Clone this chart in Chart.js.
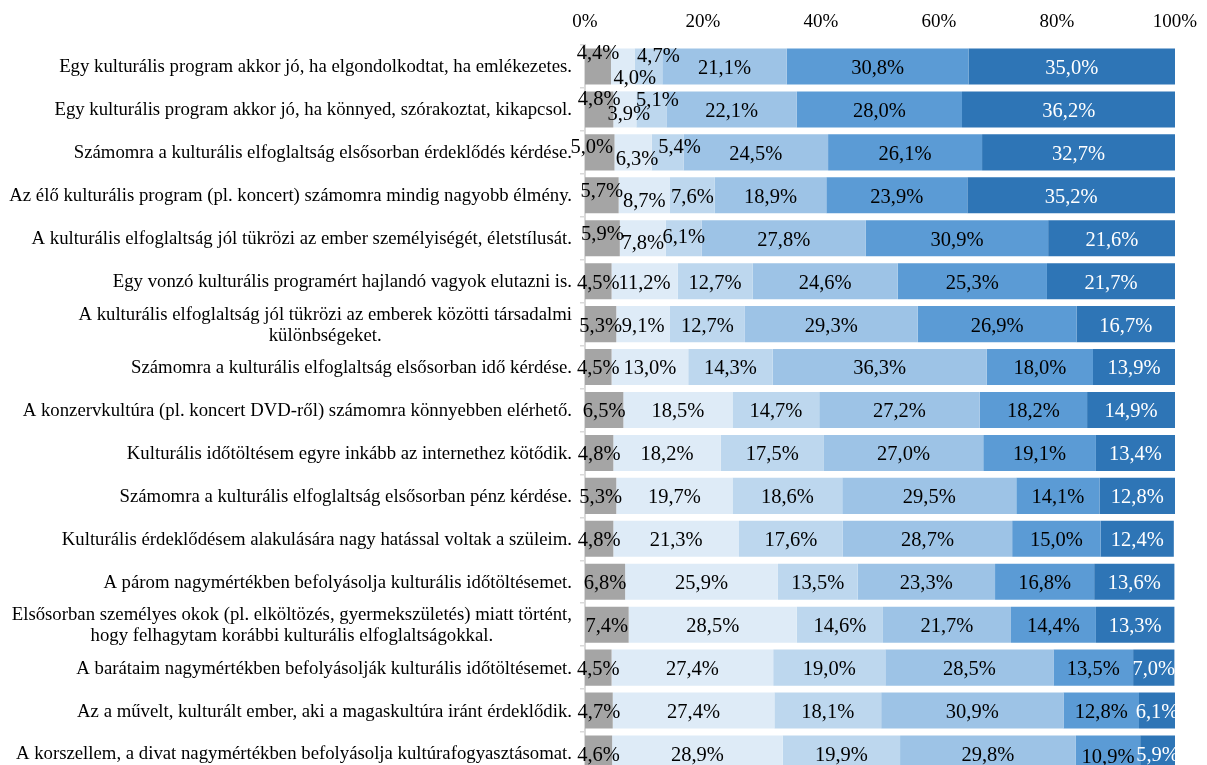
<!DOCTYPE html>
<html>
<head>
<meta charset="utf-8">
<script src="https://cdn.jsdelivr.net/npm/chart.js@4/dist/chart.umd.min.js"></script>
<style>
    html, body { margin: 0; padding: 0; background: #fff; overflow: hidden; }
    #wrap { position: absolute; left: 0; top: 0; width: 1207px; height: 780px; }
</style>
</head>
<body>
<div id="wrap"><canvas id="chart"></canvas></div>
<script>
// Categories, top to bottom (two-line ones as arrays)
const categories = [
    'Egy kulturális program akkor jó, ha elgondolkodtat, ha emlékezetes.',
    'Egy kulturális program akkor jó, ha könnyed, szórakoztat, kikapcsol.',
    'Számomra a kulturális elfoglaltság elsősorban érdeklődés kérdése.',
    'Az élő kulturális program (pl. koncert) számomra mindig nagyobb élmény.',
    'A kulturális elfoglaltság jól tükrözi az ember személyiségét, életstílusát.',
    'Egy vonzó kulturális programért hajlandó vagyok elutazni is.',
    ['A kulturális elfoglaltság jól tükrözi az emberek közötti társadalmi', 'különbségeket.'],
    'Számomra a kulturális elfoglaltság elsősorban idő kérdése.',
    'A konzervkultúra (pl. koncert DVD-ről) számomra könnyebben elérhető.',
    'Kulturális időtöltésem egyre inkább az internethez kötődik.',
    'Számomra a kulturális elfoglaltság elsősorban pénz kérdése.',
    'Kulturális érdeklődésem alakulására nagy hatással voltak a szüleim.',
    'A párom nagymértékben befolyásolja kulturális időtöltésemet.',
    ['Elsősorban személyes okok (pl. elköltözés, gyermekszületés) miatt történt,', 'hogy felhagytam korábbi kulturális elfoglaltságokkal.'],
    'A barátaim nagymértékben befolyásolják kulturális időtöltésemet.',
    'Az a művelt, kulturált ember, aki a magaskultúra iránt érdeklődik.',
    'A korszellem, a divat nagymértékben befolyásolja kultúrafogyasztásomat.'
];

// Series values (%), one array per answer level
const noAnswer = [4.4, 4.8, 5.0, 5.7, 5.9, 4.5, 5.3, 4.5, 6.5, 4.8, 5.3, 4.8, 6.8, 7.4, 4.5, 4.7, 4.6];
const level1   = [4.0, 3.9, 6.3, 8.7, 7.8, 11.2, 9.1, 13.0, 18.5, 18.2, 19.7, 21.3, 25.9, 28.5, 27.4, 27.4, 28.9];
const level2   = [4.7, 5.1, 5.4, 7.6, 6.1, 12.7, 12.7, 14.3, 14.7, 17.5, 18.6, 17.6, 13.5, 14.6, 19.0, 18.1, 19.9];
const level3   = [21.1, 22.1, 24.5, 18.9, 27.8, 24.6, 29.3, 36.3, 27.2, 27.0, 29.5, 28.7, 23.3, 21.7, 28.5, 30.9, 29.8];
const level4   = [30.8, 28.0, 26.1, 23.9, 30.9, 25.3, 26.9, 18.0, 18.2, 19.1, 14.1, 15.0, 16.8, 14.4, 13.5, 12.8, 10.9];
const level5   = [35.0, 36.2, 32.7, 35.2, 21.6, 21.7, 16.7, 13.9, 14.9, 13.4, 12.8, 12.4, 13.6, 13.3, 7.0, 6.1, 5.9];

const xTicks = [0, 20, 40, 60, 80, 100];

// Manual label nudges for crowded small segments ("row,series": [dx, dy])
const labelNudge = {
    '0,0': [0, -15], '0,1': [12, 10], '0,2': [10, -12],
    '1,0': [0, -12], '1,1': [4, 3], '1,2': [6, -11],
    '2,0': [-8, -7], '2,1': [4, 5], '2,2': [12, -7],
    '3,0': [0, -6], '3,1': [0, 4], '3,2': [0, 0],
    '4,0': [0, -6], '4,1': [0, 3], '4,2': [0, -3],
    '16,4': [0, 2]
};

function fmt(v) {
    return v.toFixed(1).replace('.', ',') + '%';
}

// Draws the value labels inside the segments and the category labels
const labelPlugin = {
    id: 'segLabels',
    afterDatasetsDraw(chart) {
        const ctx = chart.ctx;
        ctx.save();
        ctx.font = '20.5px "Liberation Serif"';
        ctx.textAlign = 'center';
        ctx.textBaseline = 'middle';
        chart.data.datasets.forEach((ds, di) => {
            chart.getDatasetMeta(di).data.forEach((bar, i) => {
                const nudge = labelNudge[i + ',' + di] || [0, 0];
                const x = (bar.x + bar.base) / 2 + nudge[0];
                ctx.fillStyle = di === 5 ? '#ffffff' : '#000000';
                ctx.fillText(fmt(ds.data[i]), x, bar.y + 2 + nudge[1]);
            });
        });

        ctx.font = '18.75px "Liberation Serif"';
        ctx.fillStyle = '#000000';
        const yScale = chart.scales.y;
        const right = chart.chartArea.left - 13;
        categories.forEach((c, i) => {
            const lines = Array.isArray(c) ? c : [c];
            const yc = yScale.getPixelForValue(i) + 1;
            const maxW = Math.max(...lines.map(l => ctx.measureText(l).width));
            const cx = right - maxW / 2;
            lines.forEach((l, k) => {
                ctx.fillText(l, cx, yc + (k - (lines.length - 1) / 2) * 21);
            });
        });
        ctx.restore();
    }
};

const colors = ['#A5A5A5', '#DEEBF7', '#BDD7EE', '#9DC3E6', '#5B9BD5', '#2E75B6'];
const seriesNames = ['Nem tudja', '1', '2', '3', '4', '5'];
const seriesData = [noAnswer, level1, level2, level3, level4, level5];

const ctx = document.getElementById('chart').getContext('2d');
const chart = new Chart(ctx, {
    type: 'bar',
    data: {
        labels: categories.map(c => Array.isArray(c) ? c.join(' ') : c),
        datasets: seriesData.map((d, i) => ({
            label: seriesNames[i],
            data: d,
            backgroundColor: colors[i],
            borderWidth: 0,
            categoryPercentage: 0.84,
            barPercentage: 1.0
        }))
    },
    options: {
        indexAxis: 'y',
        responsive: true,
        maintainAspectRatio: false,
        animation: false,
        layout: {
            padding: { left: 580, right: 32, top: 0, bottom: 5 }
        },
        scales: {
            x: {
                position: 'top',
                stacked: true,
                min: 0,
                max: 100,
                afterBuildTicks: (scale) => {
                    scale.ticks = xTicks.map(v => ({ value: v }));
                },
                afterFit: (scale) => { scale.height = 45; },
                ticks: {
                    color: '#000',
                    padding: 4,
                    font: { family: '"Liberation Serif"', size: 19 },
                    callback: (v) => v + '%'
                },
                grid: { display: false },
                border: { display: false }
            },
            y: {
                stacked: true,
                offset: true,
                afterFit: (scale) => { scale.width = 5; },
                ticks: { display: false },
                grid: {
                    display: true,
                    drawOnChartArea: false,
                    offset: true,
                    tickLength: 5,
                    color: '#D9D9D9',
                    lineWidth: 1.5
                },
                border: { display: true, color: '#D9D9D9', width: 2 }
            }
        },
        plugins: {
            legend: { display: false },
            tooltip: { enabled: false }
        }
    },
    plugins: [labelPlugin]
});
</script>
</body>
</html>
